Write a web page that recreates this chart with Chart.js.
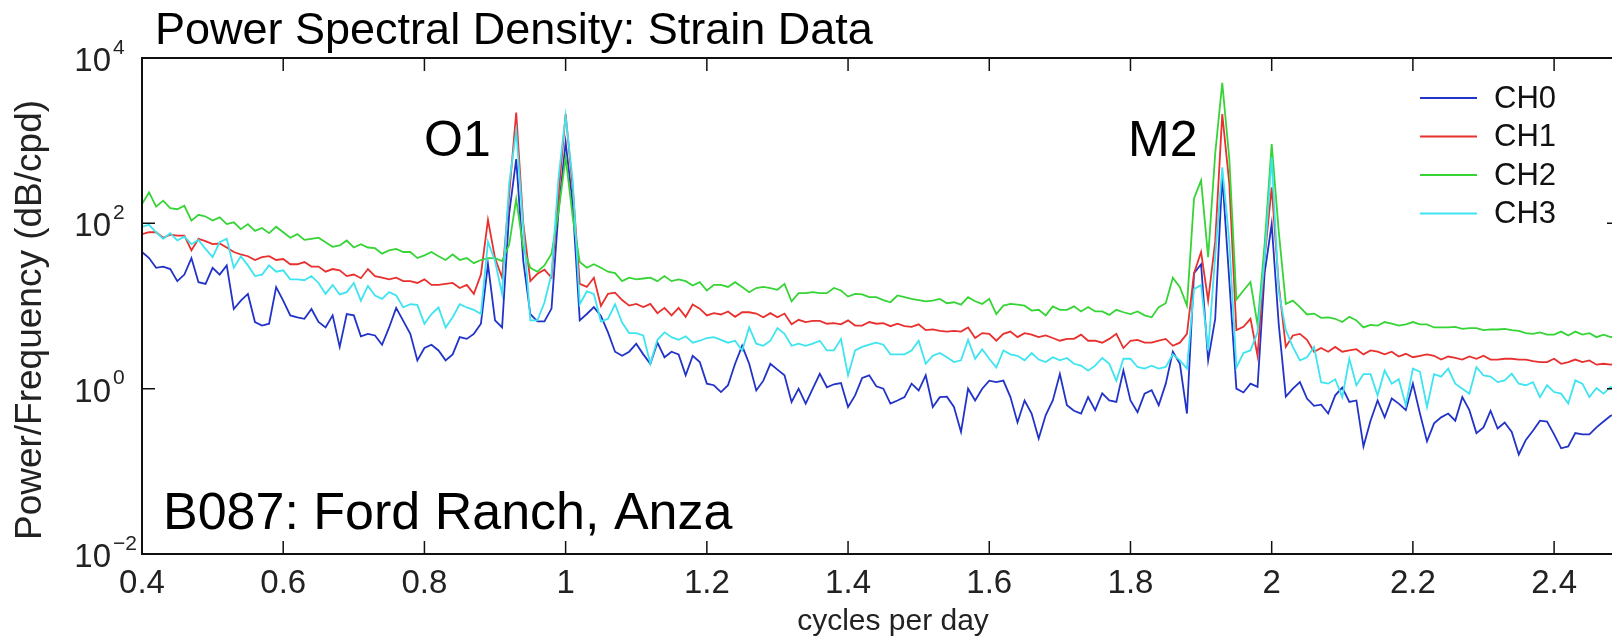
<!DOCTYPE html>
<html>
<head>
<meta charset="utf-8">
<title>Power Spectral Density: Strain Data</title>
<script src="https://cdn.jsdelivr.net/npm/chart.js@4.4.1/dist/chart.umd.min.js"></script>
<style>
  html, body { margin: 0; padding: 0; background: #fff; overflow: hidden; }
  #wrap { width: 1612px; height: 641px; }
</style>
</head>
<body>
<div id="wrap"><canvas id="psdChart" width="1612" height="641"></canvas></div>
<script>
// frequency grid (cycles per day): 0.40 .. 2.49, one sample every 0.01
const freqStart = 0.40;
const freqStep = 0.01;

// PSD values, one row per 0.1 cpd
const ch0 = [
  45, 38, 29, 30, 28, 20, 24, 38, 19.4, 18.5,
  29, 24, 31, 9.2, 11.6, 14, 6.4, 5.8, 6.1, 16.9,
  11.6, 7.7, 7.3, 7, 9.2, 6.4, 5.5, 7.7, 3.2, 8,
  7.7, 4.3, 4.6, 4.4, 3.4, 5.5, 9.5, 6.6, 4.6, 2.2,
  3.1, 3.4, 2.9, 2.2, 2.6, 4.2, 4.0, 4.6, 6.1, 32,
  6.7, 5.5, 130, 598, 35, 8, 6.5, 6.5, 9.3, 144,
  953, 170, 6.7, 8, 9.7, 7.6, 4.8, 2.8, 2.5, 2.8,
  3.5, 2.6, 2.0, 3.6, 2.4, 2.8, 2.6, 1.45, 2.5, 2.1,
  1.15, 1.1, 0.91, 1.1, 2.0, 3.3, 2.0, 0.95, 1.25, 2.0,
  1.7, 1.45, 0.69, 1.0, 0.66, 1.0, 1.51, 1.04, 1.13, 1.17,
  0.6, 0.83, 1.35, 1.45, 1.07, 1.0, 0.66, 0.72, 0.79, 1.15,
  0.95, 1.45, 0.6, 0.79, 0.8, 0.6, 0.3, 1.0, 0.72, 1.0,
  1.25, 1.2, 1.25, 0.79, 0.39, 0.72, 0.5, 0.25, 0.48, 0.72,
  1.5, 0.63, 0.54, 0.5, 0.79, 0.55, 0.88, 0.72, 0.69, 1.66,
  0.72, 0.52, 0.87, 0.96, 0.63, 1.15, 2.8, 2.0, 0.5, 25,
  32, 2.2, 7, 377, 20, 1.0, 0.9, 1.15, 1.05, 25,
  98, 6, 0.8, 1.0, 1.2, 0.76, 0.62, 0.64, 0.5, 0.83,
  1.03, 0.69, 0.72, 0.2, 0.41, 0.72, 0.45, 0.76, 0.66, 0.55,
  1.15, 0.5, 0.23, 0.38, 0.45, 0.5, 0.41, 0.79, 0.55, 0.29,
  0.34, 0.54, 0.33, 0.39, 0.3, 0.16, 0.24, 0.31, 0.41, 0.4,
  0.28, 0.19, 0.2, 0.29, 0.28, 0.28, 0.34, 0.4, 0.47, 0.5
];

const ch1 = [
  74, 78, 78, 67, 73, 71, 71, 47, 65, 61,
  56, 57, 51, 45, 42, 40, 36, 39, 40, 36,
  37, 32, 32, 34, 30, 30, 26, 28, 27, 23,
  24, 21.7, 28, 23, 22, 21, 22, 20, 20, 19,
  21, 18, 18, 18.5, 19, 16.5, 18, 14, 24, 110,
  38, 22, 220, 2190, 100, 20, 24.5, 27.5, 22, 226,
  2100, 272, 18.5, 17, 22, 10, 14, 14.5, 11.8, 10.1,
  10.6, 9.7, 10.6, 8.2, 9.5, 7.7, 9.5, 7.4, 10.4, 9.3,
  7.7, 8.2, 7.9, 8.6, 7.4, 8.4, 8.4, 8.1, 7.3, 8.2,
  7.3, 8.1, 6.0, 6.8, 6.4, 6.6, 6.6, 6.1, 6.2, 6.0,
  6.7, 5.8, 5.8, 6.4, 6.1, 6.2, 5.7, 6.1, 5.7, 5.6,
  6.0, 5.1, 5.2, 5.0, 4.9, 5.0, 4.9, 5.5, 4.1, 4.7,
  4.6, 3.8, 4.6, 4.9, 4.2, 4.7, 4.5, 4.2, 4.4, 4.1,
  3.8, 4.0, 4.0, 4.5, 3.8, 3.8, 3.6, 4.0, 4.6, 3.1,
  3.8, 3.9, 3.6, 3.6, 3.8, 4.0, 3.3, 3.6, 4.6, 25,
  45, 11.6, 60, 2100, 300, 5.1, 5.6, 7.0, 2.5, 38,
  272, 18, 3.2, 4.4, 4.6, 3.9, 2.8, 3.1, 2.8, 3.2,
  2.8, 2.9, 3.0, 2.6, 2.9, 2.8, 2.6, 2.8, 2.45, 2.64,
  2.4, 2.5, 2.6, 2.5, 2.25, 2.45, 2.35, 2.25, 2.45, 2.3,
  2.5, 2.25, 2.25, 2.3, 2.3, 2.25, 2.25, 2.15, 2.1, 2.1,
  2.3, 2.0, 2.1, 2.25, 2.1, 2.2, 1.95, 2.0, 1.95, 2.0
];

const ch2 = [
  171, 237, 159, 188, 153, 148, 163, 108, 127, 121,
  108, 118, 98, 103, 85, 98, 81, 88, 76, 91,
  78, 67, 74, 63, 65, 67, 59, 52, 54, 62,
  51, 56, 51, 50, 43, 47, 49, 45, 45, 38,
  41, 45, 40, 36, 42, 36, 38, 33, 36, 38,
  38, 35, 55, 197, 50, 29, 26, 31, 43, 140,
  627, 120, 34, 29, 32, 29, 26, 25, 20, 22,
  21, 21.5, 22, 20, 23, 20, 21, 20, 17.7, 19.4,
  15.4, 18, 18, 17, 19.4, 17, 14.7, 16.5, 17, 16.5,
  15.7, 18.5, 11.4, 14.3, 14.3, 14.7, 14.3, 14.3, 16.5, 15.4,
  13, 14, 13.8, 12.8, 12.8, 11.8, 11.1, 13.4, 12.8, 12.2,
  11.8, 11.4, 11.6, 12.2, 10.8, 11.1, 10.4, 12.8, 11.4, 10.6,
  12.2, 8.0, 10.1, 10.6, 10.4, 10.1, 8.8, 9.0, 7.7, 9.9,
  9.0, 9.0, 9.9, 8.6, 9.7, 8.6, 8.6, 7.8, 9.0, 8.4,
  8.0, 8.6, 7.7, 7.3, 9.7, 10.8, 22, 16.9, 10.1, 200,
  330, 39, 700, 5000, 600, 12, 15.4, 19.5, 5.9, 56,
  910, 80, 10.6, 11.6, 9.7, 7.9, 8.1, 7.2, 7.3, 7.0,
  6.4, 7.4, 6.7, 5.5, 5.9, 5.8, 6.4, 6.1, 5.8, 6.0,
  6.4, 6.0, 6.0, 5.5, 5.5, 5.5, 5.6, 5.3, 5.4, 5.4,
  5.1, 5.2, 5.2, 5.3, 5.1, 5.0, 4.7, 4.6, 4.8, 4.5,
  4.5, 4.9, 4.4, 4.9, 4.5, 4.7, 4.2, 4.5, 4.2, 4.4
];

const ch3 = [
  91, 96, 78, 65, 76, 62, 69, 56, 63, 49,
  39, 59, 65, 29, 40, 31, 23, 24, 31, 26,
  27, 21, 21, 20.5, 23, 19, 14, 18, 13.8, 14.7,
  19, 11.6, 17.5, 13.4, 12.2, 14.7, 13.4, 9.6, 10.5, 10.3,
  6.1, 8, 9.6, 5.5, 7.3, 10.5, 9.6, 9, 8, 60,
  35, 14, 300, 1318, 90, 6.7, 6.7, 11, 24.5, 360,
  2000, 330, 10.5, 15, 14, 6.5, 7, 10.5, 6.3, 4.7,
  4.7, 4.4, 2.0, 3.9, 4.8, 4.2, 3.9, 4.3, 3.6, 3.8,
  4.1, 4.2, 3.9, 3.6, 3.8, 2.9, 5.5, 3.5, 3.3, 3.8,
  5.4, 4.6, 3.3, 3.5, 3.3, 3.5, 3.8, 2.9, 2.9, 4.0,
  1.45, 2.9, 3.2, 3.4, 3.6, 3.4, 2.6, 2.6, 2.6, 2.9,
  3.8, 2.0, 2.5, 2.7, 2.4, 2.1, 2.2, 3.9, 2.3, 3.0,
  2.3, 1.8, 2.9, 2.6, 2.5, 2.2, 2.7, 2.25, 2.1, 2.4,
  2.2, 2.35, 2.0, 1.9, 1.65, 1.9, 2.35, 2.0, 1.25, 2.3,
  2.3, 1.83, 1.75, 1.9, 1.75, 1.83, 2.6, 2.2, 1.75, 16,
  18, 2.9, 40, 475, 60, 1.8, 2.7, 2.9, 4.8, 38,
  627, 15, 5.1, 3.2, 2.2, 2.4, 3.2, 1.2, 1.15, 1.3,
  0.79, 2.3, 1.1, 1.5, 1.5, 0.83, 1.66, 1.15, 1.3, 0.63,
  1.75, 1.6, 0.6, 1.5, 1.4, 1.75, 1.15, 1.0, 0.87, 1.82,
  1.45, 1.4, 1.2, 1.26, 1.52, 1.15, 1.1, 1.2, 0.79, 1.1,
  0.91, 0.87, 0.66, 1.26, 1.15, 0.79, 1.02, 0.87, 1.05, 1.0
];

const seriesNames = ["CH0", "CH1", "CH2", "CH3"];
const seriesColors = ["#2233c8", "#e8302e", "#36d436", "#3ee4f0"];

const xTicks = [0.4, 0.6, 0.8, 1, 1.2, 1.4, 1.6, 1.8, 2, 2.2, 2.4];
const yTicks = [0.01, 1, 100, 10000];

const FONT = '"Liberation Sans", Arial, Helvetica, sans-serif';

function toPoints(values) {
  return values.map((v, i) => ({ x: +(freqStart + i * freqStep).toFixed(2), y: v }));
}

// axes box, inward ticks, labels and the legend drawn the MATLAB way
const figureDecor = {
  id: "figureDecor",
  afterDraw(chart) {
    const ctx = chart.ctx;
    const area = chart.chartArea;
    const xs = chart.scales.x;
    const ys = chart.scales.y;
    const boxRight = area.right + 8; // right edge of the box sits just off the picture
    const tick = 13;

    ctx.save();
    ctx.strokeStyle = "#111";
    ctx.lineWidth = 2;
    ctx.beginPath();
    ctx.moveTo(boxRight, area.top);
    ctx.lineTo(area.left, area.top);
    ctx.lineTo(area.left, area.bottom);
    ctx.lineTo(boxRight, area.bottom);
    ctx.stroke();

    ctx.lineWidth = 1.5;
    ctx.beginPath();
    xTicks.forEach((v) => {
      const px = xs.getPixelForValue(v);
      ctx.moveTo(px, area.bottom);
      ctx.lineTo(px, area.bottom - tick);
      ctx.moveTo(px, area.top);
      ctx.lineTo(px, area.top + tick);
    });
    yTicks.forEach((v) => {
      const py = ys.getPixelForValue(v);
      ctx.moveTo(area.left, py);
      ctx.lineTo(area.left + tick, py);
      ctx.moveTo(boxRight, py);
      ctx.lineTo(boxRight - tick, py);
    });
    ctx.stroke();

    // x tick labels
    ctx.fillStyle = "#222";
    ctx.font = "33px " + FONT;
    ctx.textAlign = "center";
    ctx.textBaseline = "middle";
    xTicks.forEach((v) => {
      ctx.fillText(String(v), xs.getPixelForValue(v), 584);
    });

    // y tick labels as 10 with a raised exponent
    yTicks.forEach((v) => {
      const py = ys.getPixelForValue(v);
      const exp = Math.round(Math.log10(v));
      ctx.font = "33px " + FONT;
      ctx.textAlign = "right";
      ctx.fillText("10", 111, py + 4);
      ctx.font = "21px " + FONT;
      ctx.textAlign = "left";
      ctx.fillText(exp < 0 ? "\u2212" + Math.abs(exp) : String(exp), 113, py - 10);
    });

    // axis titles
    ctx.font = "30px " + FONT;
    ctx.textAlign = "center";
    ctx.fillText("cycles per day", 893, 622);
    ctx.save();
    ctx.translate(31, 320);
    ctx.rotate(-Math.PI / 2);
    ctx.font = "37px " + FONT;
    ctx.fillText("Power/Frequency (dB/cpd)", 0, 0);
    ctx.restore();

    // title and annotations
    ctx.fillStyle = "#000";
    ctx.textAlign = "left";
    ctx.textBaseline = "alphabetic";
    ctx.font = "45px " + FONT;
    ctx.fillText("Power Spectral Density: Strain Data", 155, 44);
    ctx.font = "50px " + FONT;
    ctx.fillText("O1", 424, 156);
    ctx.fillText("M2", 1128, 156);
    ctx.font = "52px " + FONT;
    ctx.fillText("B087: Ford Ranch, Anza", 163, 529);

    // legend
    ctx.fillStyle = "#fff";
    ctx.fillRect(1398, 76, 170, 158);
    ctx.font = "31px " + FONT;
    ctx.textBaseline = "middle";
    seriesNames.forEach((name, i) => {
      const y = 98 + i * 38.5;
      ctx.strokeStyle = seriesColors[i];
      ctx.lineWidth = 2;
      ctx.beginPath();
      ctx.moveTo(1420, y);
      ctx.lineTo(1477, y);
      ctx.stroke();
      ctx.fillStyle = "#111";
      ctx.fillText(name, 1494, y + 1);
    });
    ctx.restore();
  }
};

const seriesData = [ch0, ch1, ch2, ch3];

new Chart(document.getElementById("psdChart"), {
  type: "line",
  data: {
    datasets: seriesData.map((vals, i) => ({
      label: seriesNames[i],
      data: toPoints(vals),
      borderColor: seriesColors[i],
      borderWidth: 1.8,
      pointRadius: 0,
      tension: 0,
      fill: false,
      order: 3 - i // later channels on top, as in the original plot
    }))
  },
  options: {
    responsive: false,
    animation: false,
    events: [],
    layout: { padding: { top: 58, left: 0, right: 0, bottom: 0 } },
    plugins: {
      legend: { display: false },
      title: { display: false },
      tooltip: { enabled: false }
    },
    scales: {
      x: {
        type: "linear",
        min: 0.4,
        max: 2.482,
        afterBuildTicks: (s) => { s.ticks = xTicks.map((v) => ({ value: v })); },
        afterFit: (s) => { s.height = 87; },
        ticks: { display: false },
        grid: { display: false },
        border: { display: false }
      },
      y: {
        type: "logarithmic",
        min: 0.01,
        max: 10000,
        afterBuildTicks: (s) => { s.ticks = yTicks.map((v) => ({ value: v })); },
        afterFit: (s) => { s.width = 142; },
        ticks: { display: false },
        grid: { display: false },
        border: { display: false }
      }
    }
  },
  plugins: [figureDecor]
});
</script>
</body>
</html>
